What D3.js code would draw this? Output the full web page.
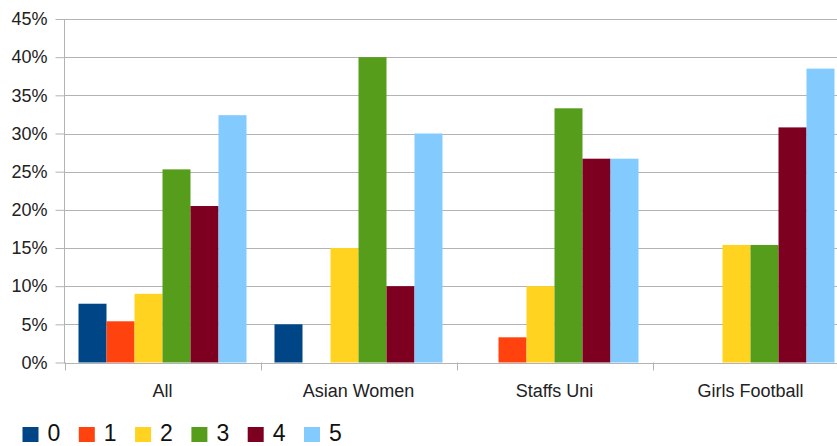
<!DOCTYPE html>
<html><head><meta charset="utf-8">
<script src="https://cdn.jsdelivr.net/npm/d3@7"></script>
<style>body{margin:0;background:#fff}svg{display:block;font-family:"Liberation Sans",Arial,sans-serif}</style>
</head><body><svg id="c" width="837" height="446"></svg>
<script>
const categories = ["All", "Asian Women", "Staffs Uni", "Girls Football"];
const seriesNames = ["0", "1", "2", "3", "4", "5"];
const s0 = [7.7, 5.0, 0, 0];
const s1 = [5.4, 0, 3.3, 0];
const s2 = [9.0, 15.0, 10.0, 15.4];
const s3 = [25.3, 40.0, 33.3, 15.4];
const s4 = [20.5, 10.0, 26.7, 30.8];
const s5 = [32.4, 30.0, 26.7, 38.5];
const yTicks = [0, 5, 10, 15, 20, 25, 30, 35, 40, 45];
const colors = ["#004586", "#ff420e", "#ffd320", "#579d1c", "#7e0021", "#83caff"];
const series = [s0, s1, s2, s3, s4, s5];

(function(){
const svg = d3.select("#c");
const pLeft = 64.5, pRight = 848.5, pTop = 19, pBottom = 362.5;
const x = d3.scaleBand().domain(categories).range([pLeft, pRight]).paddingInner(0).paddingOuter(0);
const y = d3.scaleLinear().domain([0, 45]).range([pBottom, pTop]);

// gridlines
svg.append("g").selectAll("line").data(yTicks).join("line")
  .attr("x1", pLeft).attr("x2", 837).attr("y1", d => Math.round(y(d)) + 0.5).attr("y2", d => Math.round(y(d)) + 0.5)
  .attr("stroke", "#b3b3b3").attr("stroke-width", 1);

// bars
const inner = 168, bw = inner / 6;
categories.forEach((c, ci) => {
  series.forEach((s, si) => {
    const v = s[ci];
    if (v <= 0) return;
    const x0 = x(c) + (x.bandwidth() - inner) / 2 + si * bw;
    svg.append("rect").attr("x", x0).attr("width", bw)
      .attr("y", y(v)).attr("height", y(0) - y(v)).attr("fill", colors[si]);
  });
});

// y axis
const ya = d3.axisLeft(y).tickValues(yTicks).tickFormat(d => d + "%").tickSize(9).tickPadding(8);
const yg = svg.append("g").attr("transform", `translate(${pLeft},0)`).call(ya);
yg.select(".domain").attr("stroke", "#b3b3b3").attr("d", `M0,${pTop}V${pBottom+0.5}`);
yg.selectAll(".tick line").attr("stroke", "#b3b3b3");
yg.selectAll(".tick text").attr("font-size", 18).attr("fill", "#222").attr("font-family", "Liberation Sans, Arial, sans-serif");

// x axis
const xa = d3.axisBottom(x).tickSize(0).tickPadding(0);
const xg = svg.append("g").attr("transform", `translate(0,${Math.round(pBottom)+0.5})`).call(xa);
xg.select(".domain").attr("stroke", "#b3b3b3").attr("d", `M${pLeft},0H837`);
xg.selectAll(".tick text").attr("font-size", 18).attr("fill", "#222").attr("dy", null).attr("y", 33)
  .attr("font-family", "Liberation Sans, Arial, sans-serif");
// category boundary ticks
svg.append("g").selectAll("line").data(categories).join("line")
  .attr("x1", d => Math.round(x(d)) + 0.5).attr("x2", d => Math.round(x(d)) + 0.5)
  .attr("y1", pBottom).attr("y2", pBottom + 8).attr("stroke", "#b3b3b3");

// legend
const lg = svg.append("g");
seriesNames.forEach((n, i) => {
  const lx = 22.5 + i * 56.3;
  lg.append("rect").attr("x", lx).attr("y", 427).attr("width", 16).attr("height", 15).attr("fill", colors[i]);
  lg.append("text").attr("x", lx + 25).attr("y", 441).attr("font-size", 23).attr("fill", "#111").text(n);
});
})();
</script></body></html>
